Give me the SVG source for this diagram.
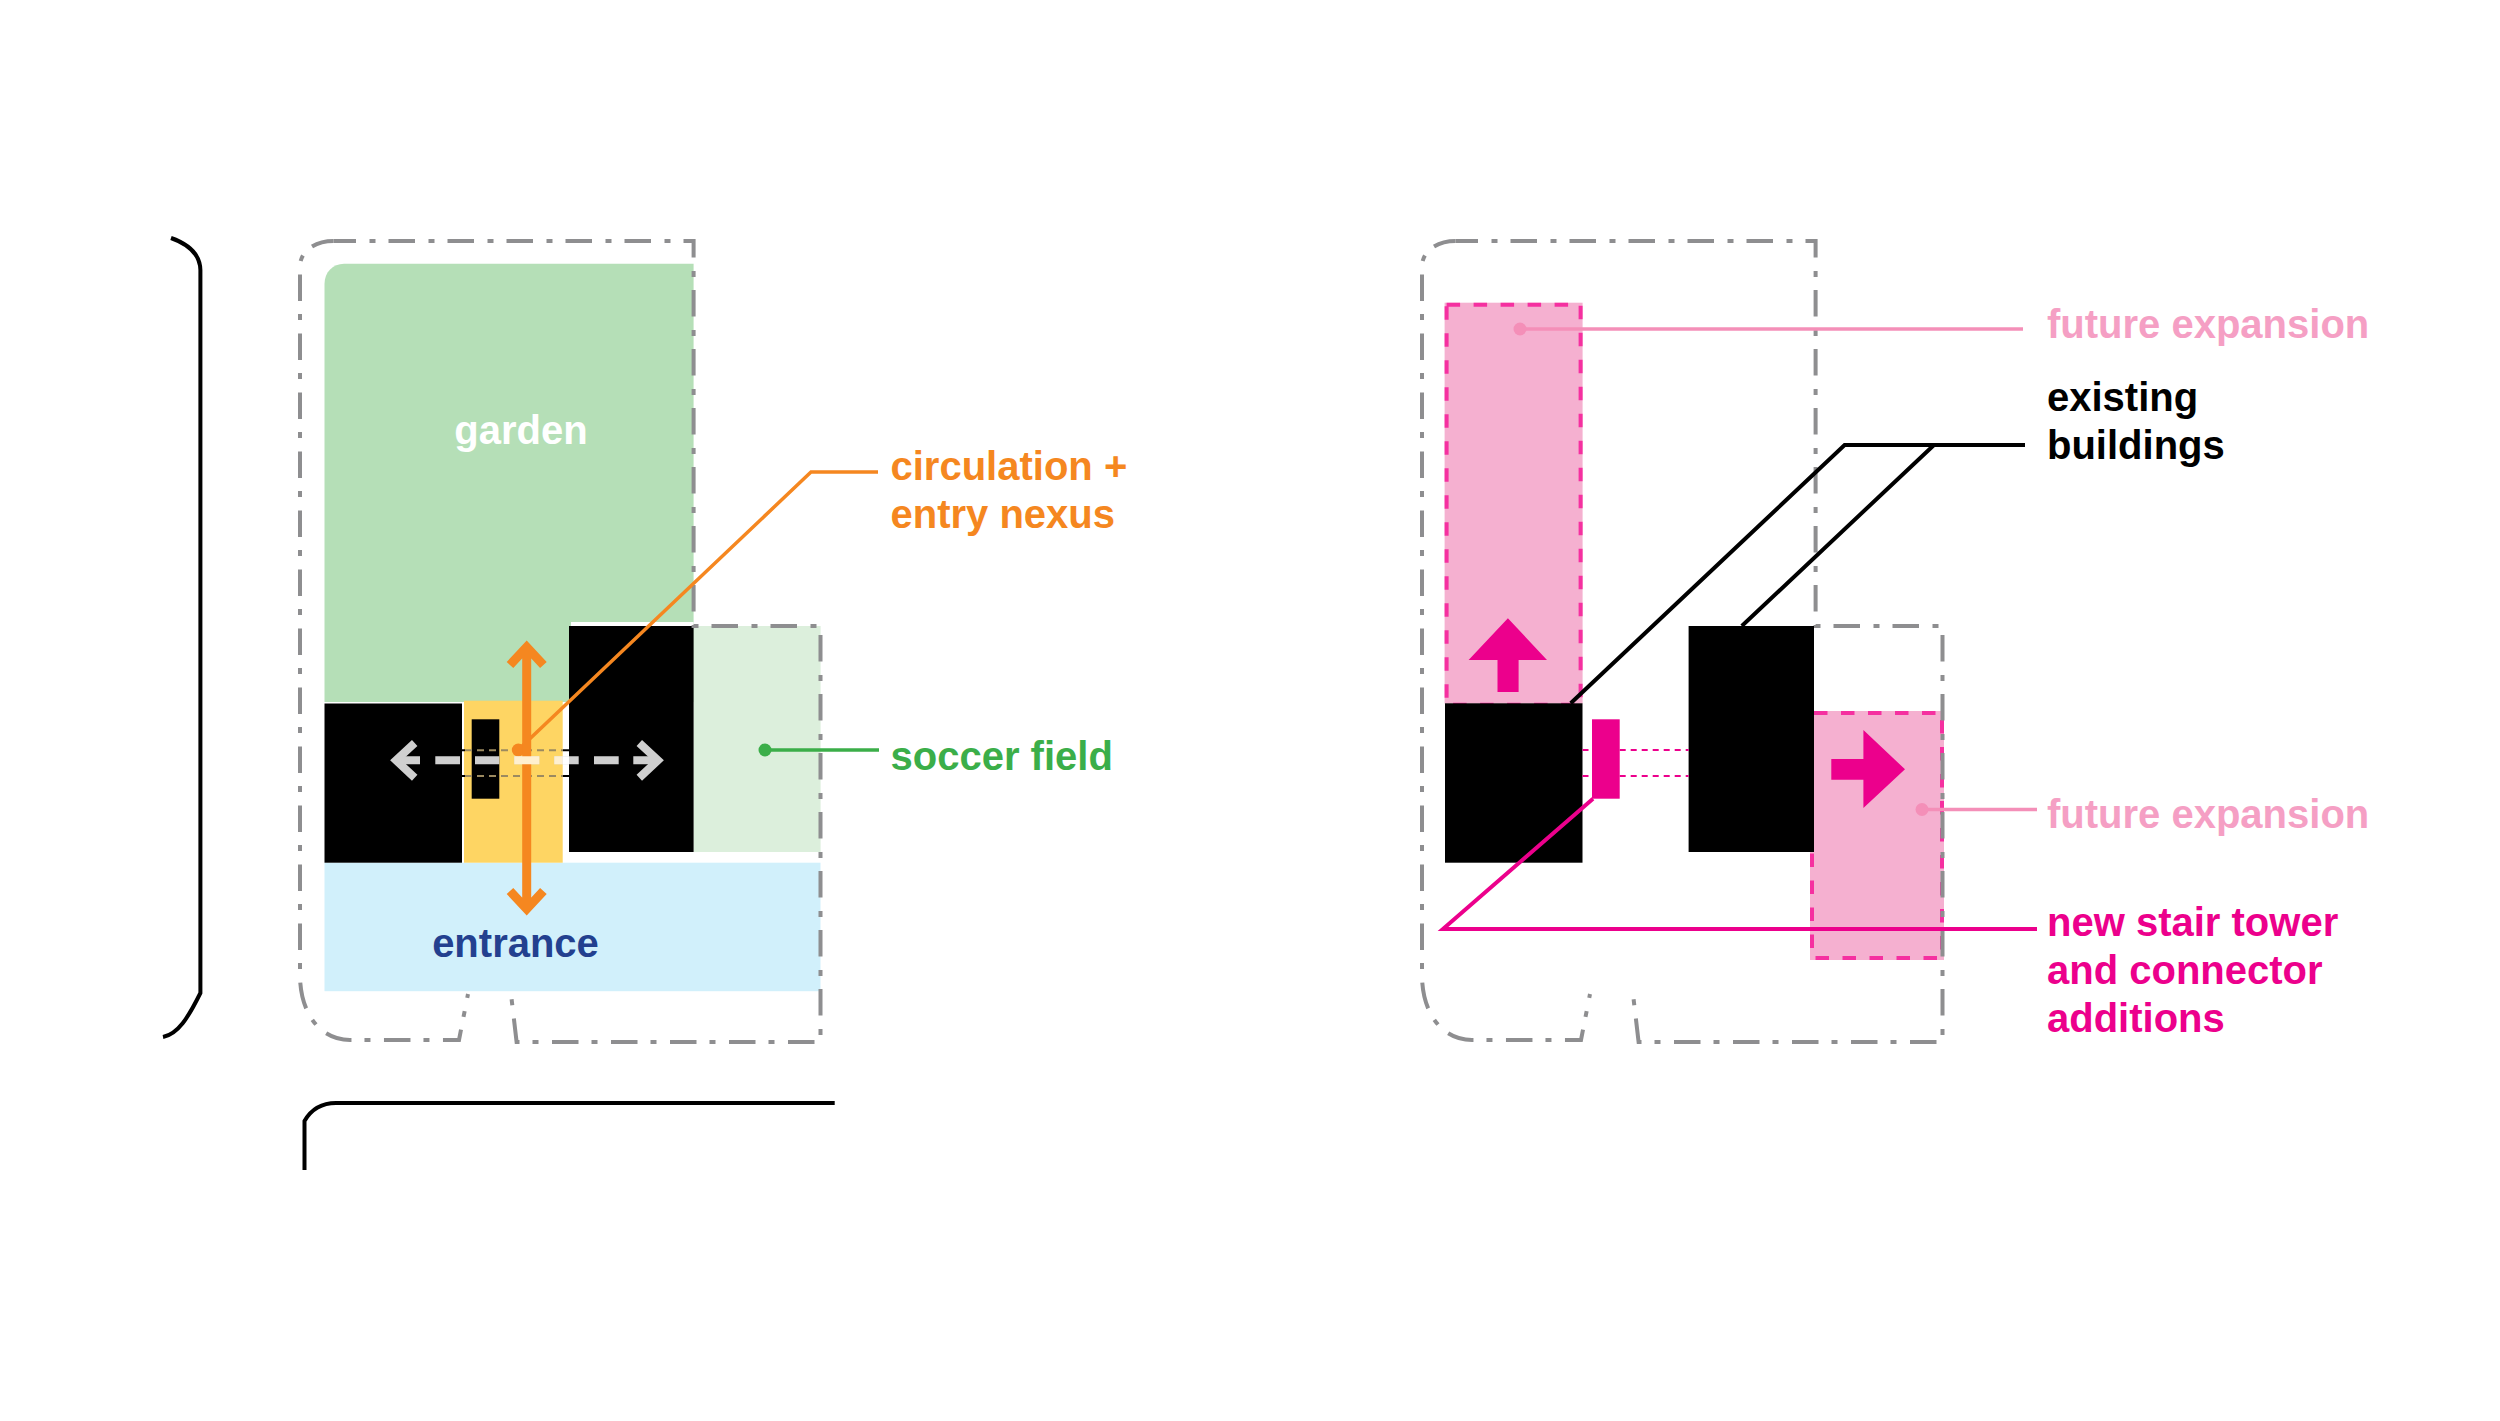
<svg xmlns="http://www.w3.org/2000/svg" xmlns:xlink="http://www.w3.org/1999/xlink" width="2500" height="1421" viewBox="0 0 2500 1421">
<style>
text{font-family:"Liberation Sans",Arial,sans-serif;font-weight:700;font-size:40px}
.o{fill:none;stroke:#8e8e90;stroke-width:4;stroke-dasharray:26.5 13.5 6 13}
.k{fill:#000}
.pk{fill:#f5b0d0}
.pd{fill:none;stroke:#f530a0;stroke-width:4;stroke-dasharray:13.5 13.5}
.m{fill:#ec008c}
.ln{fill:none;stroke-width:4}
.thin{fill:none;stroke-width:2;stroke-dasharray:7 5}
</style>
<defs>
<g id="outline">
<path class="o" stroke-dashoffset="4" d="M333.5 241H693.6V626H820.5V1042H516.6L511 994"/>
<path class="o" stroke-dashoffset="22.6" d="M468 994L459 1040H350C320 1040 300 1013 300 975V267C300 250 316 241 333.5 241"/>
</g>
</defs>
<rect width="2500" height="1421" fill="#fff"/>
<g id="site-edge">
<path class="ln" stroke="#000" d="M171 238C188 244 200 254 200.4 270V993C188 1018 178 1034 163 1037"/>
<path class="ln" stroke="#000" d="M834.7 1103H336C322 1103 312 1108 304.5 1121V1170"/>
</g>
<g id="left-plan">
<g id="garden"><path fill="#b5dfb7" d="M344 263.7H693.6V702H324.5V284C324.5 272 333 263.7 344 263.7Z"/>
<text x="521" y="444" text-anchor="middle" fill="#fff">garden</text></g>
<g id="soccer-field"><rect x="693.6" y="626" width="127" height="226" fill="#dcefdc"/></g>
<g id="entrance"><rect x="324.5" y="862.7" width="496" height="128.5" fill="#d1f0fb"/>
<text x="515.5" y="957" text-anchor="middle" fill="#23408f">entrance</text></g>
<g id="nexus"><rect x="464" y="700.7" width="98.7" height="162" fill="#fed563"/></g>
<g id="buildings-left">
<rect x="571" y="622" width="122.6" height="4" fill="#fff"/>
<rect class="k" x="324.5" y="703.5" width="137.5" height="159.2"/>
<rect class="k" x="569" y="626" width="124.6" height="226"/>
<rect class="k" x="471.7" y="719.3" width="27.6" height="79.4"/>
<path fill="none" stroke="#000" stroke-width="2" d="M462 750.3h3M462 776h3M563 750.3h6M563 776h6"/>
<path class="thin" stroke="#9c8a60" d="M465 750.3H563M465 776H563"/>
</g>
<use xlink:href="#outline" href="#outline"/>
</g>
<g id="left-connectors">
<path fill="none" stroke="#cfcfcf" stroke-width="8" d="M395 760.3H420M435.3 760.3H460M475 760.3H499.3M514.3 760.3H539.3M554.3 760.3H578.7M594 760.3H618.7M633.3 760.3H658"/>
<path fill="none" stroke="#cfcfcf" stroke-width="8" d="M414.7 743L396 760.3L414.7 777.7M639.3 743L658 760.3L639.3 777.7"/>
<path fill="none" stroke="#f58720" stroke-width="3.5" d="M878 472H811L518 750"/>
<circle cx="518.3" cy="750" r="6.5" fill="#f58720"/>
<path fill="none" stroke="#f58720" stroke-width="9" d="M526.7 647V909M510 665L526.7 647L543.4 665M510 891L526.7 909L543.4 891"/>
<path fill="#fff0d0" d="M514.3 756.3h25v8h-25zM554.3 756.3h8.4v8h-8.4z"/>
<path fill="#fff" d="M562.7 756.3h6.3v8h-6.3z"/>
<path fill="none" stroke="#3bae49" stroke-width="3.5" d="M765 750H879"/>
<circle cx="765" cy="750" r="6.5" fill="#3bae49"/>
</g>
<g id="left-labels">
<text x="890.5" y="480" fill="#f58720">circulation +</text>
<text x="890.5" y="528" fill="#f58720">entry nexus</text>
<text x="890.5" y="770" fill="#3bae49">soccer field</text>
</g>
<g id="right-plan">
<g id="expansion-north"><rect class="pk" x="1444.6" y="302.7" width="138" height="401"/>
<rect class="pd" x="1446.6" y="304.7" width="134" height="400"/>
<path class="m" d="M1507.9 618.3L1547 660H1518.6V692H1497.5V660H1468.6Z"/></g>
<g id="expansion-east"><rect class="pk" x="1814" y="711" width="130" height="141"/><rect class="pk" x="1810" y="852" width="134" height="108"/>
<path class="pd" d="M1814 713H1942V958H1812V852"/>
<path class="m" d="M1905 769.3L1863.4 808V779.7H1831.3V759H1863.4V730Z"/></g>
<use xlink:href="#outline" href="#outline" transform="translate(1122 0)"/>
<g id="buildings-right">
<rect class="k" x="1445" y="703.3" width="137.5" height="159.4"/>
<rect class="k" x="1688.6" y="626" width="125.4" height="226"/>
</g>
<g id="stair-tower"><rect class="m" x="1592" y="719.3" width="27.7" height="79.4"/>
<path class="thin" stroke="#ec008c" d="M1582.5 750H1592M1619.7 750H1688.6M1582.5 776H1592M1619.7 776H1688.6" style="stroke-dasharray:6 5"/></g>
</g>
<g id="right-connectors">
<path fill="none" stroke="#f48fb8" stroke-width="3.5" d="M1520 329H2023"/>
<circle cx="1520" cy="329" r="6.5" fill="#f48fb8"/>
<path fill="none" stroke="#f48fb8" stroke-width="3.5" d="M1922 809.5H2037"/>
<circle cx="1922" cy="809.5" r="6.5" fill="#f48fb8"/>
<path class="ln" stroke="#000" d="M2025 445H1844.6L1570.7 703.3M1934 445L1741.8 626"/>
<path class="ln" stroke="#ec008c" d="M1593 798.7L1443 929H2037"/>
</g>
<g id="right-labels">
<text x="2047" y="338" fill="#f59fc4">future expansion</text>
<text x="2047" y="411">existing</text>
<text x="2047" y="459">buildings</text>
<text x="2047" y="828" fill="#f59fc4">future expansion</text>
<text x="2047" y="936" fill="#ec008c">new stair tower</text>
<text x="2047" y="984" fill="#ec008c">and connector</text>
<text x="2047" y="1032" fill="#ec008c">additions</text>
</g>
</svg>
